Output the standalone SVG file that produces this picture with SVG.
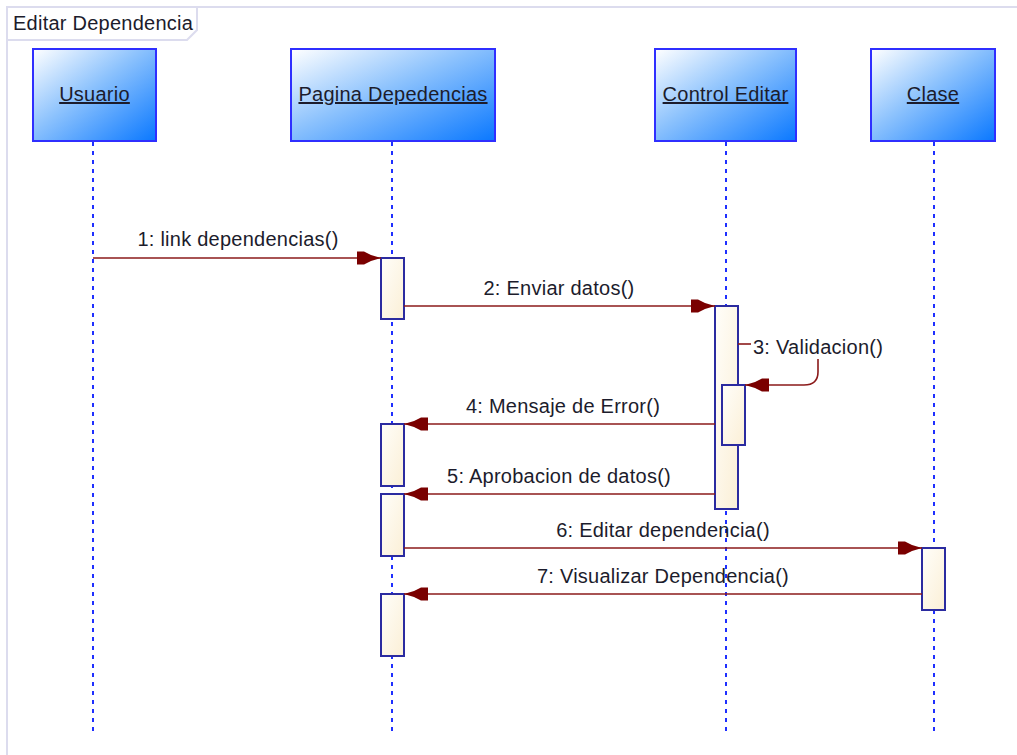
<svg xmlns="http://www.w3.org/2000/svg" width="1017" height="755" viewBox="0 0 1017 755">
  <style>
    text { font-family: "Liberation Sans", Arial, sans-serif; font-size: 20px; letter-spacing: 0.25px; fill: #1c1c2c; }
    .head { fill: url(#headFill); stroke: #2f2fff; stroke-width: 2; }
    .head-label { text-anchor: middle; text-decoration: underline; }
    .life { stroke: #1f2fff; stroke-width: 2; stroke-dasharray: 4 5; fill: none; }
    .act { fill: url(#actFill); stroke: #2b2ba0; stroke-width: 2; }
    .msg { stroke: #8b1a1a; stroke-width: 1.6; fill: none; }
    .msg-label { text-anchor: middle; }
    .frame { fill: none; stroke: #dcdcee; stroke-width: 2; }
  </style>
  <defs>
    <linearGradient id="headFill" x1="0" y1="0" x2="1" y2="1">
      <stop offset="0" stop-color="#ffffff"/>
      <stop offset="0.45" stop-color="#8cc2fd"/>
      <stop offset="1" stop-color="#0a78ff"/>
    </linearGradient>
    <linearGradient id="actFill" x1="0" y1="0" x2="1" y2="1">
      <stop offset="0" stop-color="#fffefa"/>
      <stop offset="1" stop-color="#fbefd6"/>
    </linearGradient>
    <marker id="arrow" viewBox="-25 -8 26 16" refX="0" refY="0" markerWidth="26" markerHeight="16" markerUnits="userSpaceOnUse" orient="auto">
      <polygon points="0,0 -10,-3 -17,-6.5 -24,-6.5 -24,6.5 -17,6.5 -10,3" fill="#7a0000"/>
    </marker>
  </defs>

  <rect width="1017" height="755" fill="#ffffff"/>

  <!-- interaction frame -->
  <g id="frame">
    <path class="frame" d="M7,760 V7 H1020"/>
    <path class="frame" d="M7,40 H187 L197,30 V7"/>
    <text x="13" y="30">Editar Dependencia</text>
  </g>

  <!-- lifelines -->
  <g id="usuario">
    <line class="life" x1="93" y1="142" x2="93" y2="734"/>
    <rect class="head" x="33" y="49" width="123" height="92"/>
    <text class="head-label" x="94.5" y="101">Usuario</text>
  </g>
  <g id="pagina-depedencias">
    <line class="life" x1="392" y1="142" x2="392" y2="734"/>
    <rect class="head" x="291" y="49" width="204" height="92"/>
    <text class="head-label" x="393" y="101">Pagina Depedencias</text>
  </g>
  <g id="control-editar">
    <line class="life" x1="726" y1="142" x2="726" y2="734"/>
    <rect class="head" x="655" y="49" width="141" height="92"/>
    <text class="head-label" x="725.5" y="101">Control Editar</text>
  </g>
  <g id="clase">
    <line class="life" x1="934" y1="142" x2="934" y2="734"/>
    <rect class="head" x="871" y="49" width="124" height="92"/>
    <text class="head-label" x="933" y="101">Clase</text>
  </g>

  <!-- activation bars -->
  <g id="activations">
    <rect class="act" x="381" y="258" width="23" height="61"/>
    <rect class="act" x="381" y="424" width="23" height="62"/>
    <rect class="act" x="381" y="494" width="23" height="62"/>
    <rect class="act" x="381" y="594" width="23" height="62"/>
    <rect class="act" x="715" y="306" width="23" height="203"/>
    <rect class="act" x="722" y="385" width="23" height="60"/>
    <rect class="act" x="922" y="548" width="23" height="62"/>
  </g>

  <!-- messages -->
  <g id="connectors">
    <line class="msg" x1="93" y1="258" x2="381" y2="258" marker-end="url(#arrow)"/>
    <text class="msg-label" x="238" y="246">1: link dependencias()</text>

    <line class="msg" x1="404" y1="306" x2="715" y2="306" marker-end="url(#arrow)"/>
    <text class="msg-label" x="559" y="295">2: Enviar datos()</text>

    <line class="msg" x1="738" y1="344" x2="751" y2="344"/>
    <text x="753" y="354">3: Validacion()</text>
    <path class="msg" d="M818,359 V372 Q818,385 804,385 H745" marker-end="url(#arrow)"/>

    <line class="msg" x1="715" y1="424" x2="404" y2="424" marker-end="url(#arrow)"/>
    <text class="msg-label" x="563" y="413">4: Mensaje de Error()</text>

    <line class="msg" x1="715" y1="494" x2="404" y2="494" marker-end="url(#arrow)"/>
    <text class="msg-label" x="559" y="483">5: Aprobacion de datos()</text>

    <line class="msg" x1="404" y1="548" x2="922" y2="548" marker-end="url(#arrow)"/>
    <text class="msg-label" x="663" y="537">6: Editar dependencia()</text>

    <line class="msg" x1="922" y1="594" x2="404" y2="594" marker-end="url(#arrow)"/>
    <text class="msg-label" x="663" y="583">7: Visualizar Dependencia()</text>
  </g>
</svg>
